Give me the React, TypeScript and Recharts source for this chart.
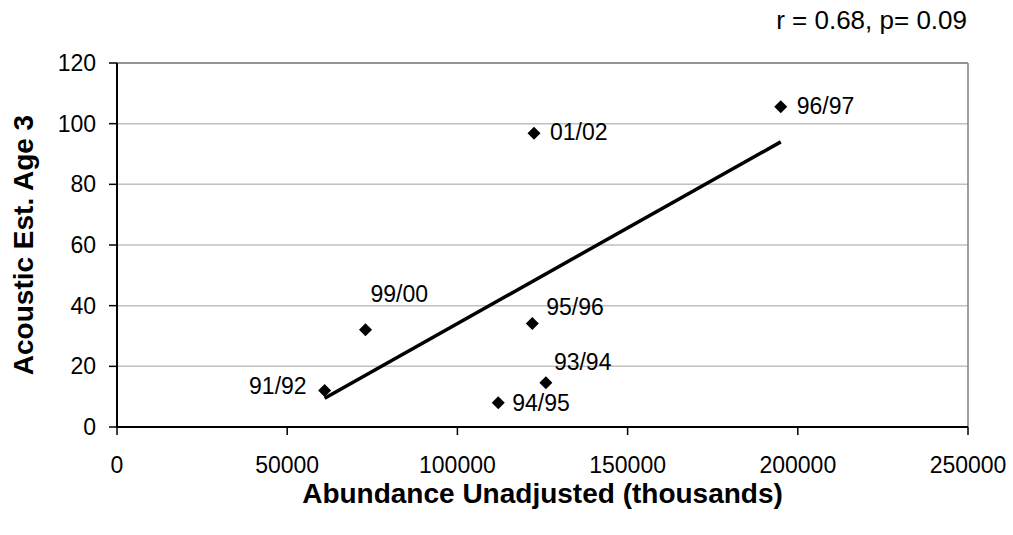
import React from 'react';
import { ScatterChart, Scatter, XAxis, YAxis, CartesianGrid, ReferenceLine, Label } from 'recharts';

const pointLabels = ['91/92', '94/95', '93/94', '99/00', '95/96', '01/02', '96/97'];
const abundance = [61000, 112000, 126000, 73000, 122000, 122500, 195000];
const acoustic = [12, 8, 14.6, 32.1, 34.1, 96.8, 105.6];
const trendX = [61000, 195000];
const trendY = [9.5, 94];
const xTicks = [0, 50000, 100000, 150000, 200000, 250000];
const yTicks = [0, 20, 40, 60, 80, 100, 120];
const statsText = 'r = 0.68, p= 0.09';
const xTitle = 'Abundance Unadjusted (thousands)';
const yTitle = 'Acoustic Est. Age 3';

const points = pointLabels.map((label, i) => ({ label, x: abundance[i], y: acoustic[i] }));
const trend = trendX.map((x, i) => ({ x, y: trendY[i] }));

const FONT = '"Liberation Sans", Arial, sans-serif';

const labelPlacement: Record<string, { dx: number; dy: number; anchor: 'start' | 'end' }> = {
  '91/92': { dx: -18, dy: -5, anchor: 'end' },
  '94/95': { dx: 14, dy: 0, anchor: 'start' },
  '93/94': { dx: 8, dy: -21, anchor: 'start' },
  '99/00': { dx: 5, dy: -36, anchor: 'start' },
  '95/96': { dx: 14, dy: -17, anchor: 'start' },
  '01/02': { dx: 16, dy: -1, anchor: 'start' },
  '96/97': { dx: 16, dy: -1, anchor: 'start' },
};

const DiamondWithLabel = (props: any) => {
  const { cx, cy, payload } = props;
  const r = 6.5;
  const pl = labelPlacement[payload.label];
  return (
    <g>
      <polygon
        points={`${cx},${cy - r} ${cx + r},${cy} ${cx},${cy + r} ${cx - r},${cy}`}
        fill="#000"
      />
      <text
        x={cx + pl.dx}
        y={cy + pl.dy}
        textAnchor={pl.anchor}
        dominantBaseline="central"
        fontSize={23}
        fontFamily={FONT}
        fill="#000"
      >
        {payload.label}
      </text>
    </g>
  );
};

const NoShape = () => <g />;

export default function App() {
  return (
    <div style={{ position: 'absolute', left: 0, top: 0, width: 1013, height: 535, background: '#fff' }}>
      <div
        style={{
          position: 'absolute',
          right: 46,
          top: 6,
          fontFamily: FONT,
          fontSize: 26,
          lineHeight: '28px',
          color: '#000',
          whiteSpace: 'nowrap',
        }}
      >
        {statsText}
      </div>
      <ScatterChart width={1013} height={535} margin={{ top: 63, right: 45, bottom: 0, left: 0 }}>
        <CartesianGrid horizontal vertical={false} stroke="#c0c0c0" strokeWidth={1.5} />
        <XAxis
          type="number"
          dataKey="x"
          domain={[0, 250000]}
          ticks={xTicks}
          interval={0}
          height={108}
          axisLine={{ stroke: '#000', strokeWidth: 2 }}
          tickLine={{ stroke: '#000', strokeWidth: 1.5 }}
          tickSize={8}
          tickMargin={22}
          tick={{ fill: '#000', fontSize: 23, fontFamily: FONT }}
        >
          <Label
            content={(p: any) => {
              const vb = p.viewBox;
              return (
                <text
                  x={vb.x + vb.width / 2}
                  y={vb.y + 66}
                  textAnchor="middle"
                  dominantBaseline="central"
                  fontSize={28}
                  fontWeight="bold"
                  fontFamily={FONT}
                  fill="#000"
                >
                  {xTitle}
                </text>
              );
            }}
          />
        </XAxis>
        <YAxis
          type="number"
          dataKey="y"
          domain={[0, 120]}
          ticks={yTicks}
          interval={0}
          width={117}
          axisLine={{ stroke: '#000', strokeWidth: 2 }}
          tickLine={{ stroke: '#000', strokeWidth: 1.5 }}
          tickSize={8}
          tickMargin={13}
          tick={{ fill: '#000', fontSize: 23, fontFamily: FONT }}
        >
          <Label
            content={(p: any) => {
              const vb = p.viewBox;
              const cx = vb.x + 23;
              const cy = vb.y + vb.height / 2;
              return (
                <text
                  x={cx}
                  y={cy}
                  transform={`rotate(-90, ${cx}, ${cy})`}
                  textAnchor="middle"
                  dominantBaseline="central"
                  fontSize={28}
                  fontWeight="bold"
                  fontFamily={FONT}
                  fill="#000"
                >
                  {yTitle}
                </text>
              );
            }}
          />
        </YAxis>
        <ReferenceLine y={120} stroke="#808080" strokeWidth={1.5} />
        <ReferenceLine x={250000} stroke="#808080" strokeWidth={1.5} />
        <Scatter
          data={trend}
          line={{ stroke: '#000', strokeWidth: 3.5 }}
          shape={NoShape}
          isAnimationActive={false}
        />
        <Scatter data={points} shape={DiamondWithLabel} isAnimationActive={false} />
      </ScatterChart>
    </div>
  );
}
